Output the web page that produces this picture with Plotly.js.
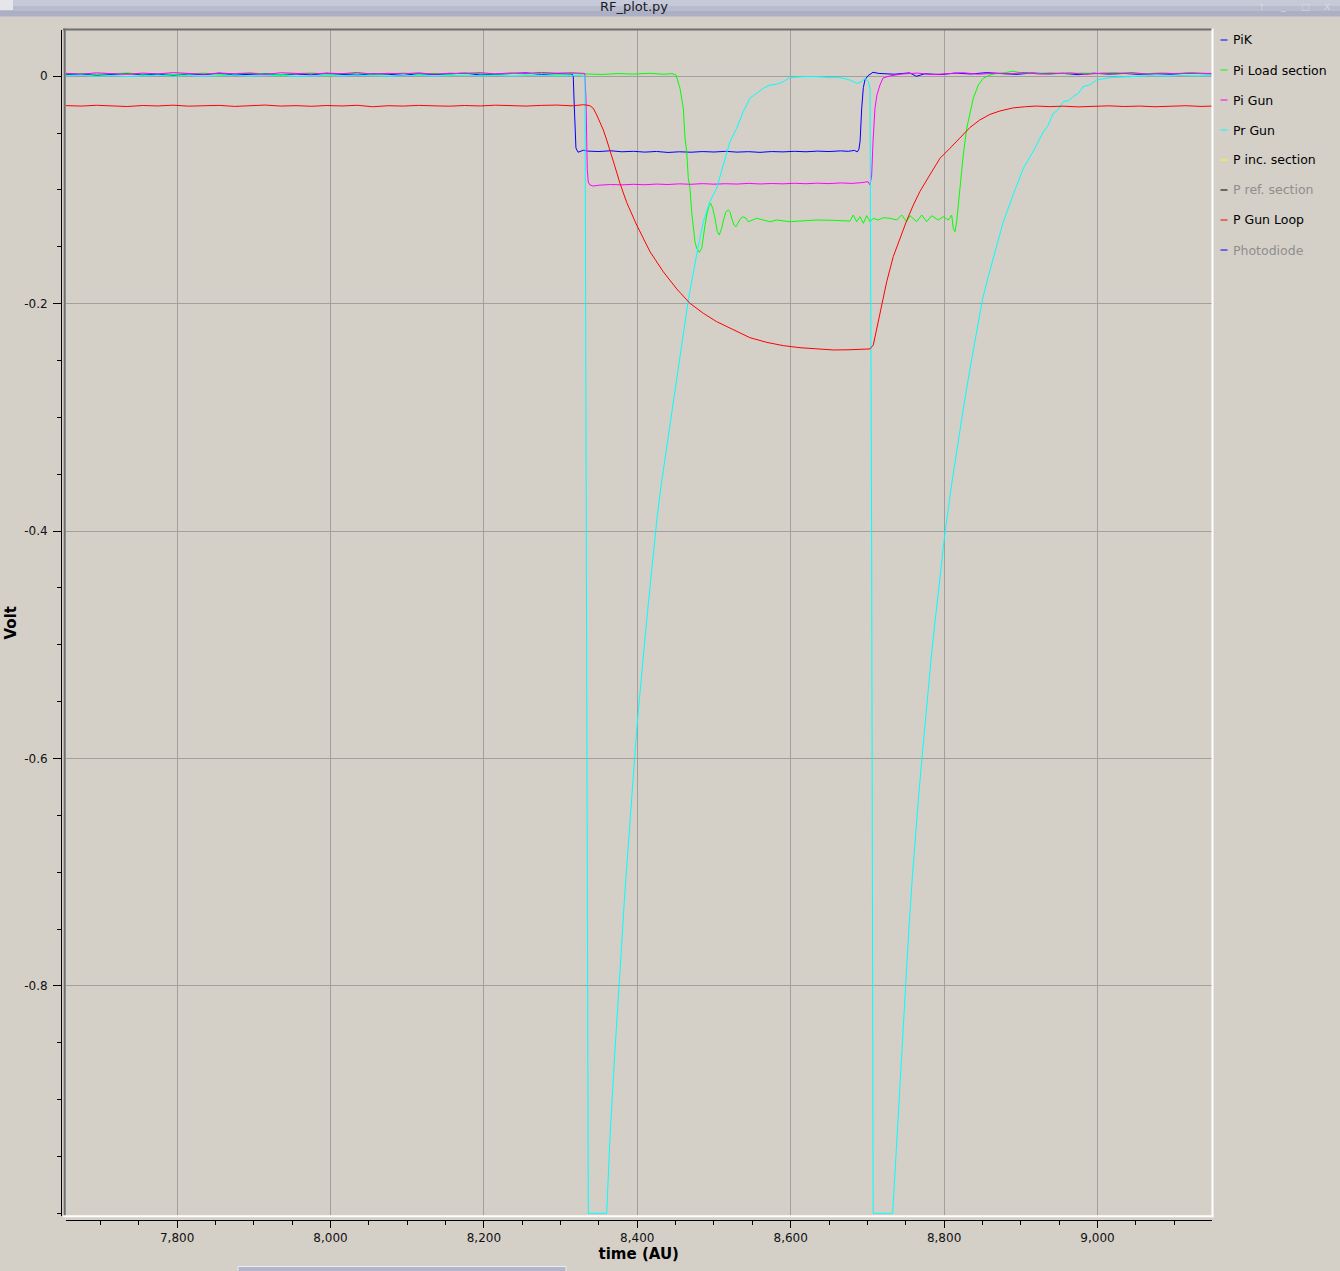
<!DOCTYPE html>
<html><head><meta charset="utf-8">
<script src="https://cdn.plot.ly/plotly-3.0.1.min.js"></script>
<style>html,body{margin:0;padding:0;background:#d4d0c8;overflow:hidden}#chart{width:1340px;height:1271px}</style>
</head><body><div id="chart"></div>
<script>
// ---------------- data (time in AU, amplitude in Volt) ----------------
const preTimes = [7655,7675,7695,7715,7735,7755,7775,7795,7815,7835,7855,7875,7895,7915,7935,7955,7975,7995,8015,8035,8055,8075,8095,8115,8135,8155,8175,8195,8215,8235,8255,8275,8295,8315];

const pikTime = preTimes.concat([8316.5,8317.5,8318.8,8320,8322.7,8326,8330,
  8335,8350,8365,8380,8395,8410,8425,8440,8455,8470,8485,8500,8515,8530,8545,8560,8575,8590,8605,8620,8635,8650,8665,
  8675,8683,8687,8689,8690.5,8692.6,8694.7,8696.9,8700.8,8707.3,
  8715,8735,8755,8764,8775,8795,8815,8835,8855,8875,8895,8915,8935,8955,8975,8995,9015,9035,9055,9075,9095,9115,9135,9150]);
const pikVolt = [0.0015,0.0022,0.0008,0.0018,0.0025,0.0012,0.0019,0.0006,0.0021,0.0014,0.0027,0.0011,0.0017,0.0023,0.0009,0.0020,0.0013,0.0026,0.0016,0.0010,0.0022,0.0018,0.0007,0.0024,0.0015,0.0019,0.0028,0.0012,0.0017,0.0021,0.0030,0.0016,0.0025,0.0020,
  0.0000,-0.0200,-0.0500,-0.0630,-0.0668,-0.0660,-0.0650,
  -0.0658,-0.0662,-0.0655,-0.0664,-0.0660,-0.0667,-0.0661,-0.0670,-0.0664,-0.0668,-0.0662,-0.0666,-0.0660,-0.0667,-0.0663,-0.0669,-0.0662,-0.0665,-0.0660,-0.0664,-0.0658,-0.0662,-0.0656,
  -0.0660,-0.0652,-0.0665,-0.0640,-0.0570,-0.0280,-0.0100,-0.0030,0.0005,0.0035,
  0.0025,0.0018,0.0030,0.0000,0.0022,0.0015,0.0028,0.0020,0.0032,0.0024,0.0017,0.0029,0.0021,0.0026,0.0014,0.0027,0.0019,0.0025,0.0016,0.0023,0.0018,0.0026,0.0020,0.0022];

const loadTime = preTimes.concat([8335,8355,8375,8395,8415,8435,8445,
  8450.5,8455.7,8460.0,8462.2,8464.4,8466.5,8468.7,8470.9,8473.0,8475.2,8477.4,8480.8,8484.0,8486.0,8488.3,8490.5,8493.9,8495.7,8498.3,8501.3,
  8504.3,8506.9,8510.0,8513.0,8515.6,8518.6,8520.9,8523.1,8526.1,8528.7,8531.7,8534.8,8538.2,8541.7,8544.7,8549.2,8555.7,8564.3,8573.0,8581.7,
  8590.4,8599.1,8612.1,8633.9,8655.5,8677.3,8681.6,8686.0,8690.4,8694.7,8699.1,8703.4,8707.7,8714.2,8720.7,8729.5,8738.2,8744.7,8751.2,8755.5,
  8764.3,8770.8,8777.3,8783.8,8792.4,8799.0,8805.5,8809.9,8812.0,8814.2,8816.4,8820.7,8825.0,8829.5,8833.8,8838.1,8844.6,8851.1,8859.9,8868.6,
  8880,8890,8900,8920,8940,8960,8980,9000,9020,9040,9060,9080,9100,9120,9140,9150]);
const loadVolt = [0.0020,0.0025,0.0017,0.0022,0.0028,0.0019,0.0024,0.0016,0.0021,0.0027,0.0018,0.0023,0.0030,0.0020,0.0015,0.0024,0.0029,0.0019,0.0022,0.0026,0.0017,0.0023,0.0028,0.0020,0.0025,0.0018,0.0031,0.0022,0.0019,0.0026,0.0021,0.0027,0.0018,0.0024,
  0.0021,0.0016,0.0024,0.0019,0.0026,0.0018,0.0023,
  0.0011,-0.0106,-0.0282,-0.0545,-0.0663,-0.0897,-0.0985,-0.1191,-0.1337,-0.1455,-0.1513,-0.1548,-0.1513,-0.1396,-0.1308,-0.1220,-0.1132,-0.1117,-0.1161,-0.1249,
  -0.1367,-0.1396,-0.1337,-0.1249,-0.1191,-0.1176,-0.1191,-0.1249,-0.1308,-0.1323,-0.1279,-0.1249,-0.1235,-0.1249,-0.1279,-0.1264,-0.1249,-0.1264,-0.1279,-0.1264,
  -0.1273,-0.1279,-0.1273,-0.1264,-0.1267,-0.1273,-0.1220,-0.1279,-0.1235,-0.1293,-0.1226,-0.1279,-0.1249,-0.1264,-0.1244,-0.1249,-0.1264,-0.1220,-0.1279,-0.1226,
  -0.1279,-0.1220,-0.1279,-0.1226,-0.1264,-0.1235,-0.1264,-0.1220,-0.1337,-0.1367,-0.1279,-0.0985,-0.0692,-0.0457,-0.0311,-0.0193,-0.0077,-0.0018,0.0011,0.0026,
  0.0032,0.0045,0.0030,0.0025,0.0031,0.0022,0.0028,0.0024,0.0033,0.0026,0.0021,0.0029,0.0025,0.0030,0.0023,0.0027];

const gunTime = preTimes.concat([8325,8331.5,8333.1,8334.0,8334.8,8336.1,8338.3,8342.6,
  8350,8365,8380,8395,8410,8425,8440,8455,8470,8485,8500,8515,8530,8545,8560,8575,8590,8605,8620,8635,8650,8665,8680,
  8692,8700.8,8703.4,8705.6,8707.3,8709.9,8712.5,8716.4,8720.4,8729.5,
  8745,8765,8785,8805,8825,8845,8865,8885,8905,8925,8945,8965,8985,9005,9025,9045,9065,9085,9105,9125,9150]);
const gunVolt = [0.0026,0.0019,0.0030,0.0023,0.0017,0.0028,0.0021,0.0032,0.0024,0.0018,0.0029,0.0022,0.0027,0.0016,0.0031,0.0025,0.0020,0.0028,0.0023,0.0033,0.0019,0.0026,0.0022,0.0030,0.0018,0.0027,0.0024,0.0032,0.0021,0.0029,0.0025,0.0034,0.0027,0.0031,
  0.0028,0.0025,-0.0200,-0.0530,-0.0820,-0.0930,-0.0956,-0.0965,
  -0.0958,-0.0952,-0.0955,-0.0950,-0.0954,-0.0948,-0.0952,-0.0946,-0.0950,-0.0944,-0.0949,-0.0945,-0.0948,-0.0942,-0.0947,-0.0943,-0.0946,-0.0941,-0.0945,-0.0940,-0.0944,-0.0938,-0.0942,
  -0.0936,-0.0927,-0.0956,-0.0868,-0.0580,-0.0280,-0.0164,-0.0077,-0.0015,0.0003,
  0.0020,0.0028,0.0015,0.0024,0.0031,0.0018,0.0026,0.0021,0.0033,0.0019,0.0025,0.0030,0.0017,0.0027,0.0022,0.0032,0.0020,0.0026,0.0023,0.0029,0.0024];

const prGunTime = preTimes.concat([8325,8331.8,8336.1,8360.1,8364.4,
  8370.1,8374.0,8376.6,8379.6,8383.5,8387.0,8390.9,8394.4,8398.1,8401.8,8406.1,8410.5,8414.8,8420.9,8425.7,8431.3,8438.7,8446.1,8451.8,8459.2,8466.5,
  8477.4,8486.0,8494.8,8503.5,8512.1,8520.9,8529.6,8538.2,8546.9,8555.7,8564.3,8573.0,8581.7,8590.4,8599.1,8616.4,8633.9,8651.2,8664.3,8677.3,
  8686.0,8692.6,8696.9,8701.2,8703.4,8705.5,8707.5,8733.0,8738.7,
  8743.8,8747.3,8750.1,8754.0,8758.2,8761.8,8766.0,8770.3,8774.7,8778.8,8783.1,8787.7,8793.8,8801.2,8809.9,8817.5,8825.5,8832.9,8840.7,8849.9,
  8858.0,8866.4,8877.2,8890.2,8903.3,8916.3,8929.3,8935.0,8942.4,8948.0,8955.4,8962.0,8968.2,8975.0,8981.2,8990.0,8998.7,9016.1,9030,9046.5,9068.2,9090,9110,9130,9150]);
const prGunVolt = [0.0004,0.0008,0.0001,0.0006,-0.0002,0.0005,0.0009,0.0003,0.0007,0.0000,0.0006,0.0010,0.0002,0.0005,0.0008,-0.0001,0.0004,0.0007,0.0003,0.0009,0.0005,0.0001,0.0006,0.0008,0.0002,0.0005,0.0010,0.0004,0.0007,0.0003,0.0006,0.0009,0.0004,0.0007,
  0.0006,0.0000,-1.0,-1.0,-0.933,
  -0.8653,-0.8192,-0.7936,-0.7638,-0.7211,-0.6870,-0.6486,-0.6188,-0.5847,-0.5549,-0.5208,-0.4910,-0.4610,-0.4185,-0.3886,-0.3587,-0.3246,-0.2905,-0.2650,-0.2309,-0.1967,
  -0.157,-0.128,-0.110,-0.0985,-0.078,-0.0575,-0.0457,-0.0311,-0.0193,-0.0150,-0.0106,-0.0077,-0.0070,-0.0047,-0.0012,-0.0003,-0.0003,-0.0012,-0.0012,-0.0033,
  -0.0062,-0.0047,-0.0018,-0.0047,-0.0106,-0.400,-1.0,-1.0,-0.933,
  -0.8653,-0.8235,-0.7936,-0.7510,-0.7083,-0.6742,-0.6401,-0.6060,-0.5719,-0.5420,-0.5122,-0.4824,-0.4440,-0.4014,-0.3587,-0.3246,-0.2905,-0.2607,-0.2309,-0.1967,
  -0.175,-0.154,-0.128,-0.104,-0.081,-0.066,-0.049,-0.044,-0.0325,-0.0300,-0.0223,-0.0215,-0.0179,-0.0150,-0.0091,-0.0075,-0.0033,-0.0012,-0.0008,-0.0003,0.0005,0.0002,0.0007,0.0003,0.0006];

const loopTime = preTimes.concat([8330,8338.3,8342.6,8347.1,8351.4,8355.7,8360.1,8364.4,8370.9,8377.4,8386.2,8399.2,8416.6,8433.9,8451.4,8468.7,8486.0,8503.5,8525.2,8546.9,
  8568.7,8590.4,8612.1,8633.9,8655.5,8677.3,8703.4,8707.7,8712.1,8718.6,8725.2,8733.8,8742.6,8751.2,8759.9,8768.3,8781.4,8794.7,8807.7,8820.7,
  8833.8,8846.6,8859.9,8872.9,8890.2,8905,8920,8938,8955,8975,8995,9015,9035,9055,9075,9095,9115,9135,9150]);
const loopVolt = [-0.0258,-0.0262,-0.0255,-0.0260,-0.0266,-0.0257,-0.0261,-0.0254,-0.0263,-0.0259,-0.0256,-0.0265,-0.0260,-0.0253,-0.0262,-0.0258,-0.0264,-0.0257,-0.0261,-0.0255,-0.0268,-0.0259,-0.0262,-0.0256,-0.0260,-0.0263,-0.0257,-0.0261,-0.0254,-0.0259,-0.0262,-0.0256,-0.0253,-0.0260,
  -0.0250,-0.0259,-0.0282,-0.0340,-0.0399,-0.0472,-0.0560,-0.0663,-0.0795,-0.0941,-0.1110,-0.1308,-0.1543,-0.1719,-0.1870,-0.1997,-0.2084,-0.2158,-0.2231,-0.2299,
  -0.2340,-0.2369,-0.2387,-0.2398,-0.2407,-0.2405,-0.2398,-0.2363,-0.2216,-0.1997,-0.1806,-0.1585,-0.1425,-0.1270,-0.1132,-0.1015,-0.0868,-0.0721,-0.0633,-0.0545,
  -0.0450,-0.0384,-0.0335,-0.0305,-0.0278,-0.0268,-0.0262,-0.0267,-0.0263,-0.0269,-0.0264,-0.0260,-0.0266,-0.0262,-0.0268,-0.0263,-0.0259,-0.0265,-0.0262];

const legendNames   = ['PiK','Pi Load section','Pi Gun','Pr Gun','P inc. section','P ref. section','P Gun Loop','Photodiode'];
const legendColors  = ['#0000ff','#00ff00','#ff00ff','#00ffff','#ffff00','#000000','#ff0000','#0000ff'];
const legendEnabled = [true,true,true,true,true,false,true,false];

const xTickVals = [7800,8000,8200,8400,8600,8800,9000];
const xTickText = ['7,800','8,000','8,200','8,400','8,600','8,800','9,000'];
const yTickVals = [0,-0.2,-0.4,-0.6,-0.8];
const yTickText = ['0','-0.2','-0.4','-0.6','-0.8'];

// ---------------- layout helpers ----------------
const W = 1340, H = 1271;
const M = {l: 61, r: 128, t: 30, b: 51};
const PW = W - M.l - M.r, PH = H - M.t - M.b;
const px = x => (x - M.l) / PW;
const py = y => (H - M.b - y) / PH;
const FONT = 'DejaVu Sans, Verdana, sans-serif';

const series = [
  {name: legendNames[0], t: pikTime,   v: pikVolt,   c: legendColors[0]},
  {name: legendNames[1], t: loadTime,  v: loadVolt,  c: legendColors[1]},
  {name: legendNames[2], t: gunTime,   v: gunVolt,   c: legendColors[2]},
  {name: legendNames[3], t: prGunTime, v: prGunVolt, c: legendColors[3]},
  {name: legendNames[6], t: loopTime,  v: loopVolt,  c: legendColors[6]}
];
const traces = series.map(s => ({
  type: 'scatter', mode: 'lines', name: s.name, x: s.t, y: s.v,
  line: {color: s.c, width: 1}, showlegend: false, hoverinfo: 'skip'
}));

const shapes = [];
const annotations = [];
// window title bar
[[0,6,'#c6c9d7'],[6,11,'#b9bccd'],[11,16.5,'#acb0c4']].forEach(b => shapes.push({
  type:'rect', xref:'paper', yref:'paper', x0:px(0), x1:px(W), y0:py(b[1]), y1:py(b[0]),
  fillcolor:b[2], line:{width:0}, layer:'below'}));
shapes.push({type:'rect', xref:'paper', yref:'paper', x0:px(0), x1:px(13), y0:py(10), y1:py(0),
  fillcolor:'#e6e6ea', line:{width:0}, layer:'below'});
// bottom scrollbar stub
shapes.push({type:'rect', xref:'paper', yref:'paper', x0:px(238), x1:px(566), y0:py(1272), y1:py(1266.5),
  fillcolor:'#b3b6c9', line:{color:'#ececf0', width:1}});
// sunken frame of the canvas
shapes.push({type:'line', xref:'paper', yref:'paper', x0:px(63), x1:px(1212), y0:py(29.5), y1:py(29.5), line:{color:'#6e6e6e', width:2}});
shapes.push({type:'line', xref:'paper', yref:'paper', x0:px(64.7), x1:px(64.7), y0:py(28.5), y1:py(1216), line:{color:'#6e6e6e', width:2}});
shapes.push({type:'line', xref:'paper', yref:'paper', x0:px(1212.5), x1:px(1212.5), y0:py(28.5), y1:py(1217.3), line:{color:'#ffffff', width:2}});
shapes.push({type:'line', xref:'paper', yref:'paper', x0:px(63), x1:px(1213.5), y0:py(1216.3), y1:py(1216.3), line:{color:'#ffffff', width:2}});

// legend (Qwt style)
legendNames.forEach((n, i) => {
  const yc = 40 + 30 * i;
  shapes.push({type:'line', xref:'paper', yref:'paper', x0:px(1220.5), x1:px(1227.5), y0:py(yc), y1:py(yc),
    line:{color:legendColors[i], width:1}});
  annotations.push({xref:'paper', yref:'paper', x:px(1231), y:py(yc), xanchor:'left', yanchor:'middle',
    text:n, showarrow:false, font:{family:FONT, size:12.5, color: legendEnabled[i] ? '#000000' : '#8e8e8e'}});
});
// window buttons
[['↑',1262],['_',1283],['□',1305],['X',1327]].forEach(b => annotations.push({
  xref:'paper', yref:'paper', x:px(b[1]), y:py(7), xanchor:'center', yanchor:'middle', text:b[0],
  showarrow:false, font:{family:FONT, size:9, color:'#d6d8e2'}}));

const axisCommon = {
  anchor:'free', position:0, zeroline:false, showline:true, linecolor:'#000000', linewidth:1,
  ticks:'outside', tickcolor:'#000000', tickwidth:1,
  tickfont:{family:FONT, size:12, color:'#111111'}, gridcolor:'#a0a0a0', gridwidth:1
};

const layout = {
  width: W, height: H, margin: M,
  paper_bgcolor:'#d4d0c8', plot_bgcolor:'#d4d0c8',
  showlegend:false,
  title:{text:'RF_plot.py', x:634/W, xref:'container', xanchor:'center', y:1-6.5/H, yref:'container', yanchor:'middle',
    font:{family:FONT, size:13, color:'#1a1a26'}},
  xaxis: Object.assign({}, axisCommon, {
    domain:[px(65.5), 1], range:[7654.5, 9149.3],
    tickmode:'array', tickvals:xTickVals, ticktext:xTickText, ticklen:7, showgrid:true,
    minor:{ticks:'outside', tickmode:'linear', tick0:0, dtick:50, ticklen:4, tickcolor:'#000000', showgrid:false},
    title:{text:'time (AU)', standoff:4, font:{family:FONT, size:15, weight:'bold', color:'#000000'}}
  }),
  xaxis2: {overlaying:'x', anchor:'free', position:0, range:[7654.5, 9149.3], tickmode:'linear', tick0:0, dtick:100,
    ticks:'outside', ticklen:7, tickcolor:'#000000', showticklabels:false, showgrid:false, zeroline:false, showline:false},
  yaxis: Object.assign({}, axisCommon, {
    domain:[py(1215.5), 1], range:[-1.0019, 0.0407],
    tickmode:'array', tickvals:yTickVals, ticktext:yTickText, ticklen:8, showgrid:true, ticklabelstandoff:3,
    minor:{ticks:'outside', tickmode:'linear', tick0:0, dtick:0.05, ticklen:4.5, tickcolor:'#000000', showgrid:false},
    title:{text:'Volt', standoff:2, font:{family:FONT, size:15, weight:'bold', color:'#000000'}}
  }),
  yaxis2: {overlaying:'y', anchor:'free', position:0, range:[-1.0019, 0.0407], tickmode:'linear', tick0:0, dtick:0.1,
    ticks:'outside', ticklen:7, tickcolor:'#000000', showticklabels:false, showgrid:false, zeroline:false, showline:false},
  shapes: shapes,
  annotations: annotations
};

Plotly.newPlot('chart', traces, layout, {staticPlot:true, displayModeBar:false});
</script></body></html>
